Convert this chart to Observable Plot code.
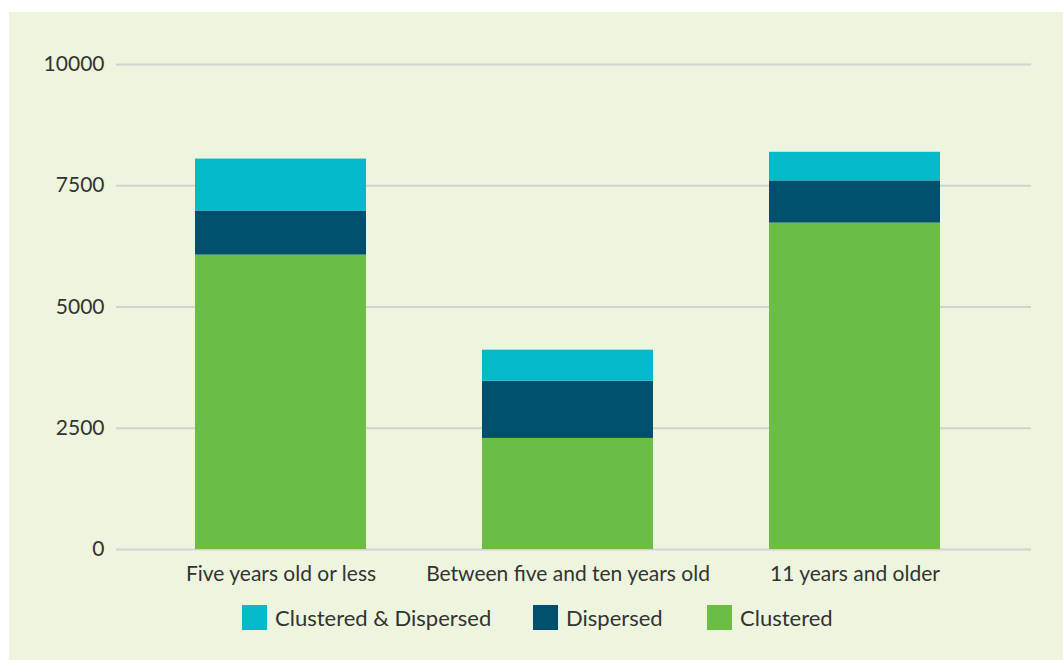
<!DOCTYPE html>
<html>
<head>
<meta charset="utf-8">
<script src="https://cdn.jsdelivr.net/npm/d3@7"></script>
<script src="https://cdn.jsdelivr.net/npm/@observablehq/plot@0.6"></script>
<style>
  html, body { margin: 0; padding: 0; background: #ffffff; }
  #wrap { position: relative; width: 1063px; height: 660px; overflow: hidden; }
  #panel { position: absolute; left: 9px; top: 12px; width: 1054px; height: 648px; background: #eef5de; }
  #chart { position: absolute; left: 0; top: 0; }
  #legend { position: absolute; left: 0; top: 605px; width: 1063px; height: 25px; font-family: Lato, sans-serif; font-size: 22px; color: #333; }
  .item { display: flex; align-items: center; position: absolute; top: 0; height: 25px; }
  .sw { width: 25px; height: 25px; margin-right: 8px; flex: none; }
</style>
</head>
<body>
<div id="wrap">
  <div id="panel"></div>
  <div id="chart"></div>
  <div id="legend"></div>
</div>
<script>
const categories = ["Five years old or less", "Between five and ten years old", "11 years and older"];
const series = ["Clustered", "Dispersed", "Clustered & Dispersed"];
const clustered = [6070, 2290, 6730];
const dispersed = [910, 1180, 870];
const clusteredDispersed = [1070, 640, 590];
const yTicks = [0, 2500, 5000, 7500, 10000];
const colors = ["#6bbd45", "#004f6e", "#04b9c9"];
const legendOrder = ["Clustered & Dispersed", "Dispersed", "Clustered"];

const valuesBySeries = [clustered, dispersed, clusteredDispersed];
const data = [];
series.forEach((s, si) => {
  categories.forEach((c, ci) => {
    data.push({category: c, series: s, value: valuesBySeries[si][ci]});
  });
});

const chart = Plot.plot({
  width: 1063,
  height: 595,
  marginLeft: 116,
  marginRight: 32,
  marginTop: 64,
  marginBottom: 46,
  style: {background: "transparent", fontFamily: "Lato, sans-serif", fontSize: "21px", color: "#333", overflow: "visible"},
  x: {domain: categories, paddingInner: 0.404, paddingOuter: 0.296, align: 0.465, label: null, tickSize: 0, tickPadding: 17},
  y: {domain: [0, 10000], ticks: yTicks, label: null, tickSize: 0, tickPadding: 12, tickFormat: d3.format("d")},
  color: {domain: series, range: colors},
  marks: [
    Plot.ruleY(yTicks, {stroke: "#d2d2d2", strokeWidth: 2}),
    Plot.barY(data, {x: "category", y: "value", fill: "series"})
  ]
});
document.getElementById("chart").appendChild(chart);

const legendX = {"Clustered & Dispersed": 242, "Dispersed": 533, "Clustered": 707};
const legend = document.getElementById("legend");
legendOrder.forEach(s => {
  const item = document.createElement("div");
  item.className = "item";
  item.style.left = legendX[s] + "px";
  const sw = document.createElement("div");
  sw.className = "sw";
  sw.style.background = colors[series.indexOf(s)];
  const label = document.createElement("span");
  label.textContent = s;
  item.appendChild(sw);
  item.appendChild(label);
  legend.appendChild(item);
});
</script>
</body>
</html>
